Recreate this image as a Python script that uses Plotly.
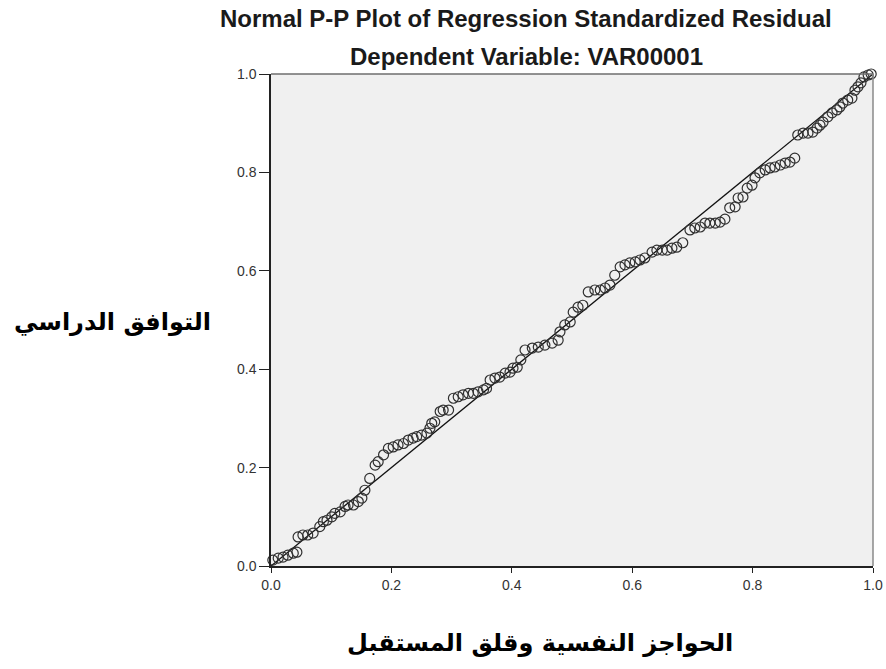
import plotly.graph_objects as go

obs_cum_prob = [
    0.003, 0.012, 0.020, 0.028, 0.037, 0.043, 0.045, 0.053, 0.061, 0.070,
    0.081, 0.087, 0.093, 0.101, 0.106, 0.115, 0.123, 0.128, 0.137, 0.145,
    0.151, 0.156, 0.164, 0.173, 0.178, 0.187, 0.195, 0.203, 0.211, 0.220,
    0.228, 0.236, 0.242, 0.250, 0.259, 0.264, 0.267, 0.272, 0.281, 0.286,
    0.295, 0.303, 0.311, 0.319, 0.328, 0.336, 0.344, 0.353, 0.358, 0.364,
    0.372, 0.380, 0.389, 0.397, 0.402, 0.409, 0.415, 0.422, 0.434, 0.444,
    0.455, 0.467, 0.477, 0.480, 0.488, 0.497, 0.502, 0.510, 0.518, 0.527,
    0.538, 0.547, 0.555, 0.563, 0.571, 0.580, 0.588, 0.596, 0.605, 0.613,
    0.621, 0.633, 0.641, 0.650, 0.658, 0.666, 0.674, 0.684, 0.696, 0.704,
    0.713, 0.721, 0.729, 0.738, 0.746, 0.754, 0.762, 0.771, 0.776, 0.784,
    0.791, 0.799, 0.804, 0.812, 0.821, 0.829, 0.837, 0.846, 0.854, 0.862,
    0.870, 0.875, 0.884, 0.892, 0.900, 0.907, 0.912, 0.917, 0.925, 0.932,
    0.940, 0.945, 0.950, 0.958, 0.965, 0.970, 0.975, 0.980, 0.985, 0.992,
    0.997,
]
exp_cum_prob = [
    0.012, 0.016, 0.018, 0.022, 0.026, 0.028, 0.059, 0.063, 0.063, 0.067,
    0.080, 0.090, 0.093, 0.100, 0.107, 0.110, 0.121, 0.124, 0.124, 0.131,
    0.138, 0.154, 0.178, 0.205, 0.212, 0.226, 0.239, 0.242, 0.246, 0.249,
    0.256, 0.260, 0.263, 0.266, 0.270, 0.280, 0.290, 0.293, 0.314, 0.317,
    0.317, 0.341, 0.344, 0.348, 0.351, 0.351, 0.354, 0.358, 0.361, 0.378,
    0.382, 0.384, 0.392, 0.394, 0.402, 0.404, 0.419, 0.439, 0.443, 0.445,
    0.449, 0.453, 0.459, 0.476, 0.490, 0.496, 0.516, 0.526, 0.530, 0.557,
    0.561, 0.561, 0.565, 0.571, 0.591, 0.608, 0.612, 0.616, 0.618, 0.622,
    0.626, 0.638, 0.642, 0.642, 0.642, 0.646, 0.648, 0.657, 0.683, 0.687,
    0.689, 0.697, 0.697, 0.697, 0.699, 0.705, 0.728, 0.730, 0.748, 0.750,
    0.768, 0.774, 0.789, 0.799, 0.805, 0.809, 0.811, 0.815, 0.819, 0.821,
    0.829, 0.876, 0.880, 0.880, 0.882, 0.890, 0.896, 0.902, 0.913, 0.921,
    0.927, 0.933, 0.941, 0.947, 0.951, 0.967, 0.974, 0.982, 0.994, 0.998,
    1.000,
]

ref_line_x = [0.0, 1.0]
ref_line_y = [0.0, 1.0]

tick_vals = [0.0, 0.2, 0.4, 0.6, 0.8, 1.0]
tick_text = ["0.0", "0.2", "0.4", "0.6", "0.8", "1.0"]

title_main = "Normal P-P Plot of Regression Standardized Residual"
title_sub = "Dependent Variable: VAR00001"
x_label = "الحواجز النفسية وقلق المستقبل"
y_label = "التوافق الدراسي"

fig = go.Figure()

fig.add_trace(go.Scatter(
    x=ref_line_x, y=ref_line_y, mode="lines",
    line=dict(color="#111111", width=1.3),
    hoverinfo="skip", showlegend=False,
))

fig.add_trace(go.Scatter(
    x=obs_cum_prob, y=exp_cum_prob, mode="markers",
    marker=dict(symbol="circle-open", size=10, color="#303030",
                line=dict(color="#303030", width=1.2)),
    cliponaxis=False, showlegend=False,
))

tick_font = dict(family="Liberation Sans, Arial, sans-serif", size=14, color="#333333")

fig.update_xaxes(
    range=[0, 1], tickvals=tick_vals, ticktext=tick_text,
    ticks="outside", ticklen=5, tickwidth=1, tickcolor="#222222",
    showline=True, linecolor="#222222", linewidth=1.5,
    showgrid=False, zeroline=False, tickfont=tick_font,
)
fig.update_yaxes(
    range=[0, 1], tickvals=tick_vals, ticktext=tick_text,
    ticks="outside", ticklen=10, tickwidth=1, tickcolor="#222222",
    showline=True, linecolor="#222222", linewidth=1.5,
    showgrid=False, zeroline=False, tickfont=tick_font,
)

# gray frame on top and right
fig.add_shape(type="line", xref="x domain", yref="y domain", x0=0, x1=1, y0=1, y1=1,
              line=dict(color="#6e6e6e", width=1.5), layer="above")
fig.add_shape(type="line", xref="x domain", yref="y domain", x0=1, x1=1, y0=0, y1=1,
              line=dict(color="#8a8a8a", width=1.5), layer="above")

title_font = dict(family="Liberation Sans, Arial, sans-serif", size=24, color="#1a1a1a", weight="bold")
arabic_font = dict(family="DejaVu Sans, sans-serif", size=24, color="#000000", weight="bold")

annotations = [
    dict(text=title_main, x=0.4236, y=1.112, xref="paper", yref="paper",
         xanchor="center", yanchor="middle", showarrow=False, font=title_font),
    dict(text=title_sub, x=0.4236, y=1.0346, xref="paper", yref="paper",
         xanchor="center", yanchor="middle", showarrow=False, font=title_font),
    dict(text=y_label, x=-0.264, y=0.496, xref="paper", yref="paper",
         xanchor="center", yanchor="middle", showarrow=False, font=arabic_font),
    dict(text=x_label, x=0.447, y=-0.1565, xref="paper", yref="paper",
         xanchor="center", yanchor="middle", showarrow=False, font=arabic_font),
]

fig.update_layout(
    width=886, height=669,
    margin=dict(l=271, r=13, t=74, b=103, autoexpand=False),
    paper_bgcolor="#ffffff", plot_bgcolor="#f0f0f0",
    annotations=annotations,
    showlegend=False,
)

# remove the default 8px page margin so the figure fills the window exactly; hide the modebar
fig.write_html("out.html", config={"displayModeBar": False},
               post_script="document.body.style.margin='0';")
